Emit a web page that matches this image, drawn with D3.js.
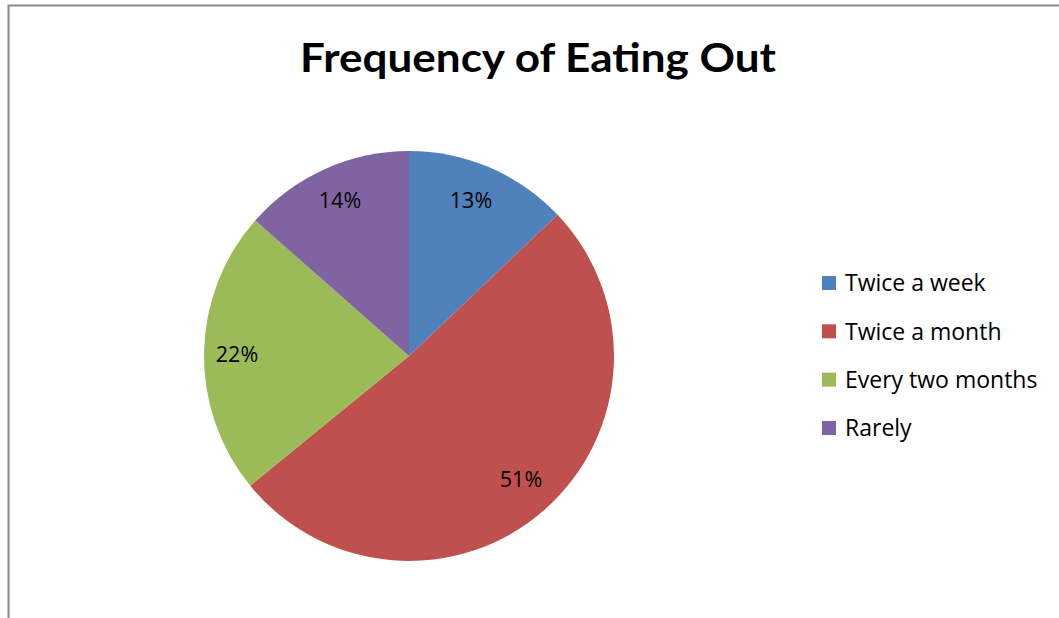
<!DOCTYPE html>
<html><head><meta charset="utf-8">
<script src="https://cdn.jsdelivr.net/npm/d3@7"></script>
<style>html,body{margin:0;padding:0;background:#fff;}svg{display:block;}</style>
</head><body>
<svg id="chart" width="1059" height="618"></svg>
<script>
const categories = ["Twice a week", "Twice a month", "Every two months", "Rarely"];
const values = [12.9, 51.2, 22.4, 13.5];
const colors = ["#4F81BD", "#C0504D", "#9BBB59", "#8064A2"];
const labelPositions = [[471, 200], [521, 479], [237, 354], [340, 200]];

const svg = d3.select("#chart");
const font = "Lato, 'Open Sans', sans-serif";
const font2 = "'Open Sans', Lato, sans-serif";

// chart border
svg.append("path").attr("d", "M8.5,618 L8.5,5.5 L1059,5.5")
  .attr("fill", "none").attr("stroke", "#878787").attr("stroke-width", 2);

// title
svg.append("text").attr("x", 538).attr("y", 72).attr("text-anchor", "middle")
  .attr("font-family", font).attr("font-weight", "bold").attr("font-size", 40)
  .attr("textLength", 476).attr("lengthAdjust", "spacingAndGlyphs")
  .attr("fill", "#000").text("Frequency of Eating Out");

const cx = 409, cy = 356, r = 205;
const pie = d3.pie().sort(null).value(d => d)(values);
const arc = d3.arc().innerRadius(0).outerRadius(r);
const g = svg.append("g").attr("transform", `translate(${cx},${cy})`);
g.selectAll("path").data(pie).join("path")
  .attr("d", arc).attr("fill", (d, i) => colors[i]);

const total = d3.sum(values);
g.selectAll("text").data(pie).join("text")
  .attr("x", (d, i) => labelPositions[i][0] - cx)
  .attr("y", (d, i) => labelPositions[i][1] - cy)
  .attr("dy", "0.36em").attr("text-anchor", "middle")
  .attr("font-family", font2).attr("font-size", 21.5).attr("fill", "#000")
  .text(d => Math.round(d.data / total * 100) + "%");

// legend
const lg = svg.append("g");
const rowY = d3.scalePoint().domain(categories).range([283, 428]);
categories.forEach((c, i) => {
  const y = rowY(c);
  lg.append("rect").attr("x", 822).attr("y", y - 7).attr("width", 14).attr("height", 14)
    .attr("fill", colors[i]);
  lg.append("text").attr("x", 845).attr("y", y).attr("dy", "0.36em")
    .attr("font-family", font2).attr("font-size", 23).attr("fill", "#000").text(c);
});
</script>
</body></html>
